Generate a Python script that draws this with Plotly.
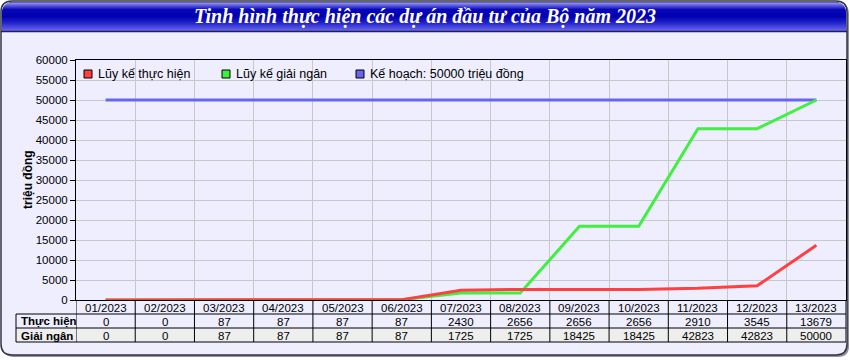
import math
import plotly.graph_objects as go

# ---------------- data ----------------
categories = ["01/2023", "02/2023", "03/2023", "04/2023", "05/2023", "06/2023", "07/2023",
              "08/2023", "09/2023", "10/2023", "11/2023", "12/2023", "13/2023"]
thuc_hien = [0, 0, 87, 87, 87, 87, 2430, 2656, 2656, 2656, 2910, 3545, 13679]
giai_ngan = [0, 0, 87, 87, 87, 87, 1725, 1725, 18425, 18425, 42823, 42823, 50000]
ke_hoach_value = 50000
ke_hoach = [ke_hoach_value] * len(categories)
series_names = ["Lũy kế thực hiện", "Lũy kế giải ngân", "Kế hoạch: 50000 triệu đồng"]
row_labels = ["Thực hiện", "Giải ngân"]
title_text = "Tinh hình thực hiện các dự án đầu tư của Bộ năm 2023"
y_title = "triệu đồng"
y_ticks = list(range(0, 60001, 5000))
y_ticklabels = [str(v) for v in y_ticks]

# ---------------- layout geometry ----------------
W, H = 850, 360
ML, MR, MT, MB = 76, 4, 60, 60
PW, PH = W - ML - MR, H - MT - MB

def X(px):
    return (px - ML) / PW

def Y(py):
    return 1 - (py - MT) / PH

FONT = "Liberation Sans"
RED, GREEN, BLUE = "#FF4040", "#40F040", "#6666EE"

idx = list(range(len(categories)))

fig = go.Figure()
fig.add_trace(go.Scatter(x=idx, y=ke_hoach, mode="lines", line=dict(color=BLUE, width=3),
                         name=series_names[2], showlegend=False, hoverinfo="skip"))
fig.add_trace(go.Scatter(x=idx, y=giai_ngan, mode="lines", line=dict(color=GREEN, width=3),
                         name=series_names[1], showlegend=False))
fig.add_trace(go.Scatter(x=idx, y=thuc_hien, mode="lines", line=dict(color=RED, width=3),
                         name=series_names[0], showlegend=False))

shapes = []
annotations = []

def rrect_path(x0, y0, x1, y1, r):
    pts = [
        f"M {X(x0 + r)},{Y(y0)}",
        f"L {X(x1 - r)},{Y(y0)}",
        f"Q {X(x1)},{Y(y0)} {X(x1)},{Y(y0 + r)}",
        f"L {X(x1)},{Y(y1 - r)}",
        f"Q {X(x1)},{Y(y1)} {X(x1 - r)},{Y(y1)}",
        f"L {X(x0 + r)},{Y(y1)}",
        f"Q {X(x0)},{Y(y1)} {X(x0)},{Y(y1 - r)}",
        f"L {X(x0)},{Y(y0 + r)}",
        f"Q {X(x0)},{Y(y0)} {X(x0 + r)},{Y(y0)}",
        "Z",
    ]
    return " ".join(pts)

# shadow + frame
shapes.append(dict(type="path", xref="paper", yref="paper", layer="below",
                   path=rrect_path(3, 3, 849, 357, 11), fillcolor="#9090a0",
                   line=dict(width=0)))
shapes.append(dict(type="path", xref="paper", yref="paper", layer="below",
                   path=rrect_path(1, 1, 847, 355, 11), fillcolor="#EEEEFF",
                   line=dict(color="#333344", width=1.5)))

# title bar gradient
stops = [(1, (0x40, 0x40, 0xb0)), (3, (0x88, 0x88, 0xe4)), (6, (0x48, 0x48, 0xd8)),
         (9, (0x08, 0x08, 0xb8)), (16, (0x00, 0x00, 0xb0)), (22, (0x20, 0x20, 0xc8)),
         (30, (0x64, 0x64, 0xee))]

def col_at(y):
    for (ya, ca), (yb, cb) in zip(stops, stops[1:]):
        if ya <= y <= yb:
            t = (y - ya) / (yb - ya)
            c = [round(ca[k] + (cb[k] - ca[k]) * t) for k in range(3)]
            return "rgb(%d,%d,%d)" % tuple(c)
    c = stops[-1][1] if y > stops[-1][0] else stops[0][1]
    return "rgb(%d,%d,%d)" % c

r = 10
for py in range(2, 31):
    inset = 0.0
    if py < 2 + r:
        dy = (2 + r) - (py + 0.5)
        inset = r - math.sqrt(max(r * r - dy * dy, 0))
    shapes.append(dict(type="rect", xref="paper", yref="paper", layer="above",
                       x0=X(2 + inset), x1=X(846 - inset), y0=Y(py + 1), y1=Y(py),
                       fillcolor=col_at(py), line=dict(width=0)))
shapes.append(dict(type="line", xref="paper", yref="paper", layer="above",
                   x0=X(1), x1=X(847), y0=Y(31.5), y1=Y(31.5),
                   line=dict(color="#202050", width=1.5)))

annotations.append(dict(xref="paper", yref="paper", x=X(425), y=Y(17), text=title_text,
                        showarrow=False, xanchor="center", yanchor="middle",
                        font=dict(family="Liberation Serif", size=20, color="white",
                                  weight="bold", style="italic")))

# y-axis title
annotations.append(dict(xref="paper", yref="paper", x=X(28), y=Y(180), text=y_title,
                        showarrow=False, textangle=-90, xanchor="center", yanchor="middle",
                        font=dict(family=FONT, size=12, color="black", weight="bold")))

# legend (manual, square swatches)
legend_items = [(series_names[0], RED, 84), (series_names[1], GREEN, 222),
                (series_names[2], BLUE, 356)]
for name, colr, lx in legend_items:
    shapes.append(dict(type="rect", xref="paper", yref="paper", layer="above",
                       x0=X(lx), x1=X(lx + 8), y0=Y(78), y1=Y(70),
                       fillcolor=colr, line=dict(color="black", width=1)))
    annotations.append(dict(xref="paper", yref="paper", x=X(lx + 12), y=Y(74), text=name,
                            showarrow=False, xanchor="left", yanchor="middle",
                            font=dict(family=FONT, size=12.5, color="black")))

# ---------------- data table ----------------
ROW_H0, ROW_H1, ROW_H2, ROW_H3 = 300, 314, 328, 342
shapes.append(dict(type="rect", xref="paper", yref="paper", layer="above",
                   x0=X(16), x1=X(846), y0=Y(ROW_H3), y1=Y(ROW_H2),
                   fillcolor="#EEEEEE", line=dict(width=0)))
for yy in (ROW_H1, ROW_H2, ROW_H3):
    shapes.append(dict(type="line", xref="paper", yref="paper", layer="above",
                       x0=X(16), x1=X(846), y0=Y(yy), y1=Y(yy),
                       line=dict(color="black", width=1)))
shapes.append(dict(type="line", xref="paper", yref="paper", layer="above",
                   x0=X(16), x1=X(16), y0=Y(ROW_H1), y1=Y(ROW_H3),
                   line=dict(color="black", width=1)))
for i in range(len(categories) + 1):
    shapes.append(dict(type="line", xref="x", yref="paper", layer="above",
                       x0=i - 0.5, x1=i - 0.5, y0=Y(ROW_H0), y1=Y(ROW_H3),
                       line=dict(color="black", width=1)))

cell_font = dict(family=FONT, size=11.5, color="black")
for i, cat in enumerate(categories):
    annotations.append(dict(xref="x", yref="paper", x=i, y=Y(307.5), text=cat,
                            showarrow=False, xanchor="center", yanchor="middle", font=cell_font))
    annotations.append(dict(xref="x", yref="paper", x=i, y=Y(321.5), text=str(thuc_hien[i]),
                            showarrow=False, xanchor="center", yanchor="middle", font=cell_font))
    annotations.append(dict(xref="x", yref="paper", x=i, y=Y(335.5), text=str(giai_ngan[i]),
                            showarrow=False, xanchor="center", yanchor="middle", font=cell_font))
for j, lab in enumerate(row_labels):
    annotations.append(dict(xref="paper", yref="paper", x=X(19), y=Y(321.5 + 14 * j), text=lab,
                            showarrow=False, xanchor="left", yanchor="middle",
                            font=dict(family=FONT, size=11.5, color="black", weight="bold")))

fig.update_layout(
    width=W, height=H,
    margin=dict(l=ML, r=MR, t=MT, b=MB),
    paper_bgcolor="white",
    plot_bgcolor="white",
    showlegend=False,
    shapes=shapes,
    annotations=annotations,
    xaxis=dict(range=[-0.5, len(categories) - 0.5], tickmode="linear", tick0=-0.5, dtick=1,
               showticklabels=False, ticks="", showgrid=True, gridcolor="#C8C8C8", gridwidth=1,
               zeroline=False, showline=True, linecolor="black", linewidth=1, mirror=True,
               fixedrange=True),
    yaxis=dict(range=[0, 60000], tickmode="array", tickvals=y_ticks, ticktext=y_ticklabels,
               ticks="outside", ticklen=5,
               tickcolor="black", showgrid=True, gridcolor="#C8C8C8", gridwidth=1,
               zeroline=False, showline=True, linecolor="black", linewidth=1, mirror=True,
               tickfont=dict(family=FONT, size=11.5, color="black"), fixedrange=True),
)

fig.write_html("out.html")
